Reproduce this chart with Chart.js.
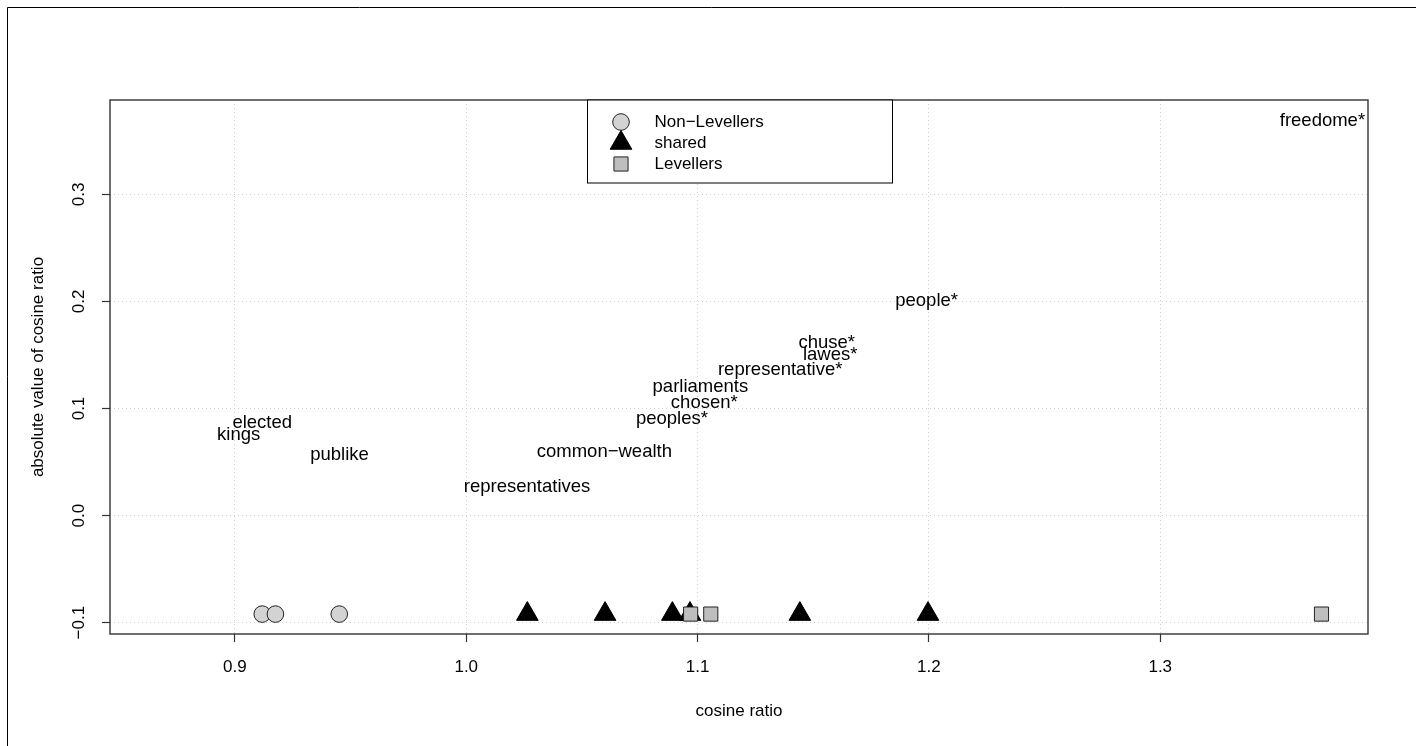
<!DOCTYPE html>
<html>
<head>
<meta charset="utf-8">
<title>cosine ratio</title>
<script src="https://cdn.jsdelivr.net/npm/chart.js@4.4.0/dist/chart.umd.min.js"></script>
<style>
  html, body { margin: 0; padding: 0; background: #fff; }
  canvas { display: block; }
</style>
</head>
<body>
<canvas id="cosChart" width="1416" height="746"></canvas>
<script>
/*** Data ***/
const groupNames = ['Non\u2212Levellers', 'shared', 'Levellers'];
const nonLevellersX = [0.9118, 0.9175, 0.9451];
const sharedX = [1.0264, 1.0600, 1.0891, 1.0967, 1.1442, 1.1996];
const levellersX = [1.0970, 1.1057, 1.3697];
const markerY = -0.092;

const words = ['freedome*', 'people*', 'chuse*', 'lawes*', 'representative*', 'parliaments',
    'chosen*', 'peoples*', 'common\u2212wealth', 'representatives', 'publike', 'elected', 'kings'];
const wordX = [1.3701, 1.1990, 1.1558, 1.1573, 1.1357, 1.1012, 1.1029, 1.0889, 1.0597, 1.0263, 0.9452, 0.9118, 0.9016];
const wordY = [0.3684, 0.2005, 0.1615, 0.1500, 0.1360, 0.1205, 0.1049, 0.0903, 0.0598, 0.0271, 0.0567, 0.0868, 0.0754];

const xTicks = [0.9, 1.0, 1.1, 1.2, 1.3];
const xTickLabels = ['0.9', '1.0', '1.1', '1.2', '1.3'];
const yTicks = [-0.1, 0.0, 0.1, 0.2, 0.3];
const yTickLabels = ['\u22120.1', '0.0', '0.1', '0.2', '0.3'];

/*** Style ***/
const FONT = '"Liberation Sans", Arial, Helvetica, sans-serif';
const markerStyles = [
    {pointStyle: 'circle', radius: 8.3, fill: '#d3d3d3', stroke: '#222'},
    {pointStyle: 'triangle', radius: 12.5, fill: '#000', stroke: '#000'},
    {pointStyle: 'rect', radius: 10, fill: '#bebebe', stroke: '#222'}
];

function toPoints(xs) {
    return xs.map(x => ({x: x, y: markerY}));
}

/*** Legend symbol (same shapes as chart.js point styles) ***/
function drawSymbol(ctx, st, x, y) {
    ctx.fillStyle = st.fill;
    ctx.strokeStyle = st.stroke;
    ctx.lineWidth = 1;
    ctx.beginPath();
    if (st.pointStyle === 'circle') {
        ctx.arc(x, y, st.radius, 0, Math.PI * 2);
    } else if (st.pointStyle === 'triangle') {
        const r = st.radius;
        ctx.moveTo(x, y - r);
        ctx.lineTo(x + r * Math.sqrt(3) / 2, y + r / 2);
        ctx.lineTo(x - r * Math.sqrt(3) / 2, y + r / 2);
        ctx.closePath();
    } else {
        const s = st.radius * Math.SQRT1_2;
        ctx.rect(x - s, y - s, 2 * s, 2 * s);
    }
    ctx.fill();
    ctx.stroke();
}

/*** R-like decorations: box, frame, tick labels, titles, legend, word labels ***/
const rDecor = {
    id: 'rDecor',
    afterDatasetsDraw(chart) {
        const ctx = chart.ctx;
        const meta = chart.getDatasetMeta(3);
        ctx.save();
        ctx.fillStyle = '#000';
        ctx.font = '18.5px ' + FONT;
        ctx.textAlign = 'center';
        ctx.textBaseline = 'middle';
        meta.data.forEach((el, i) => {
            ctx.fillText(words[i], el.x, el.y);
        });
        ctx.restore();
    },
    afterDraw(chart) {
        const ctx = chart.ctx, a = chart.chartArea;
        const xs = chart.scales.x, ys = chart.scales.y;
        ctx.save();

        // figure frame
        ctx.strokeStyle = '#000';
        ctx.lineWidth = 1;
        ctx.beginPath();
        ctx.moveTo(7.5, chart.height);
        ctx.lineTo(7.5, 7.5);
        ctx.lineTo(chart.width, 7.5);
        ctx.stroke();

        // plot box
        ctx.strokeStyle = '#333';
        ctx.lineWidth = 1.4;
        ctx.strokeRect(a.left, a.top, a.right - a.left, a.bottom - a.top);

        // tick labels
        ctx.fillStyle = '#000';
        ctx.font = '17px ' + FONT;
        ctx.textAlign = 'center';
        ctx.textBaseline = 'middle';
        xTicks.forEach((v, i) => {
            ctx.fillText(xTickLabels[i], xs.getPixelForValue(v), a.bottom + 33);
        });
        yTicks.forEach((v, i) => {
            ctx.save();
            ctx.translate(a.left - 31, ys.getPixelForValue(v));
            ctx.rotate(-Math.PI / 2);
            ctx.fillText(yTickLabels[i], 0, 0);
            ctx.restore();
        });

        // axis titles
        ctx.fillText('cosine ratio', (a.left + a.right) / 2, a.bottom + 77);
        ctx.save();
        ctx.translate(38, (a.top + a.bottom) / 2);
        ctx.rotate(-Math.PI / 2);
        ctx.fillText('absolute value of cosine ratio', 0, 0);
        ctx.restore();

        // legend
        const boxW = 305, boxH = 83;
        const bx = Math.round((a.left + a.right) / 2 - boxW / 2) + 0.5;
        const by = a.top;
        ctx.fillStyle = '#fff';
        ctx.fillRect(bx, by, boxW, boxH);
        ctx.strokeStyle = '#000';
        ctx.lineWidth = 1;
        ctx.strokeRect(bx, by, boxW, boxH);
        ctx.textAlign = 'left';
        groupNames.forEach((name, i) => {
            const ry = by + 22 + i * 21;
            drawSymbol(ctx, markerStyles[i], bx + 33.5, ry);
            ctx.fillStyle = '#000';
            ctx.fillText(name, bx + 67, ry);
        });

        ctx.restore();
    }
};

/*** Chart ***/
const cosCanvas = document.getElementById('cosChart');
const pointSets = [nonLevellersX, sharedX, levellersX];

const cosChart = new Chart(cosCanvas, {
    type: 'scatter',
    data: {
        datasets: pointSets.map((xsArr, i) => ({
            label: groupNames[i],
            data: toPoints(xsArr),
            pointStyle: markerStyles[i].pointStyle,
            pointRadius: markerStyles[i].radius,
            pointBackgroundColor: markerStyles[i].fill,
            pointBorderColor: markerStyles[i].stroke,
            pointBorderWidth: 1,
            order: 3 - i
        })).concat([{
            label: 'words',
            data: wordX.map((x, i) => ({x: x, y: wordY[i]})),
            pointRadius: 0,
            order: 0
        }])
    },
    options: {
        responsive: false,
        animation: false,
        events: [],
        layout: {
            padding: {left: 0, top: 100, right: 48, bottom: 0}
        },
        plugins: {
            legend: {display: false},
            tooltip: {enabled: false}
        },
        scales: {
            x: {
                type: 'linear',
                min: 0.846,
                max: 1.3898,
                afterBuildTicks: s => { s.ticks = xTicks.map(v => ({value: v})); },
                afterFit: s => { s.height = 112; },
                ticks: {display: false},
                border: {display: false, dash: [1, 3]},
                grid: {
                    color: '#cfcfcf',
                    lineWidth: 1,
                    drawTicks: true,
                    tickLength: 8,
                    tickColor: '#333',
                    tickBorderDash: [],
                    tickWidth: 1.2
                }
            },
            y: {
                type: 'linear',
                min: -0.1106,
                max: 0.3881,
                afterBuildTicks: s => { s.ticks = yTicks.map(v => ({value: v})); },
                afterFit: s => { s.width = 110; },
                ticks: {display: false},
                border: {display: false, dash: [1, 3]},
                grid: {
                    color: '#cfcfcf',
                    lineWidth: 1,
                    drawTicks: true,
                    tickLength: 8,
                    tickColor: '#333',
                    tickBorderDash: [],
                    tickWidth: 1.2
                }
            }
        }
    },
    plugins: [rDecor]
});
</script>
</body>
</html>
